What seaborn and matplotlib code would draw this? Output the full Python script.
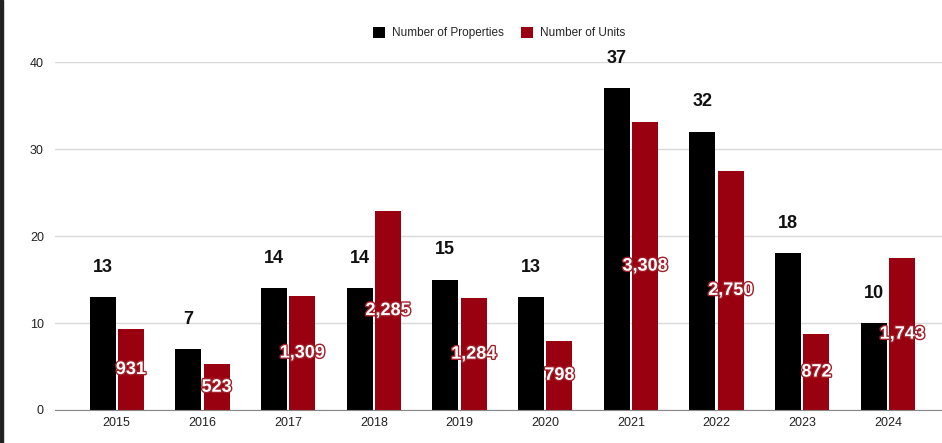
import pandas as pd
import matplotlib.pyplot as plt
import matplotlib.patheffects as pe
from matplotlib.patches import Rectangle
import seaborn as sns

# Données
years = ["2015", "2016", "2017", "2018", "2019", "2020", "2021", "2022", "2023", "2024"]
properties = [13, 7, 14, 14, 15, 13, 37, 32, 18, 10]
units = [931, 523, 1309, 2285, 1284, 798, 3308, 2750, 872, 1743]
series = ["Number of Properties", "Number of Units"]
colors = ["#000000", "#990010"]

# Les unités sont tracées au 1/100 sur le même axe
df = pd.DataFrame({
    "year": years * 2,
    "series": [series[0]] * len(years) + [series[1]] * len(years),
    "value": properties + [u / 100 for u in units],
})

sns.set_style("white")
plt.rcParams["font.family"] = ["Liberation Sans", "DejaVu Sans"]

fig = plt.figure(figsize=(9.42, 4.43), dpi=100)
ax = fig.add_axes([0.0584, 0.0745, 0.9416, 0.7855])

sns.barplot(
    data=df, x="year", y="value", hue="series", palette=colors,
    saturation=1, width=0.66, gap=0.08, linewidth=0, ax=ax, legend=True
)

ax.set_ylim(0, 40)
ax.set_xlim(-0.72, 9.63)
ax.set_yticks([0, 10, 20, 30, 40])
ax.set_xlabel("")
ax.set_ylabel("")
ax.yaxis.grid(True, color="#d9d9d9", linewidth=1)
ax.set_axisbelow(True)
for s in ["top", "right", "left"]:
    ax.spines[s].set_visible(False)
ax.spines["bottom"].set_color("#888888")
ax.tick_params(axis="both", length=0, labelsize=9, labelcolor="#222222")
ax.tick_params(axis="y", pad=8)
ax.tick_params(axis="x", pad=5)

# Étiquettes : propriétés au-dessus, unités au centre des barres
for bar, val in zip(ax.containers[0], properties):
    ax.annotate(
        str(val), (bar.get_x() + bar.get_width() / 2, bar.get_height()),
        xytext=(0, 21.5), textcoords="offset points",
        ha="center", va="center", fontsize=13, fontweight="bold", color="#111111"
    )
for bar, val in zip(ax.containers[1], units):
    t = ax.text(
        bar.get_x() + bar.get_width() / 2, bar.get_height() / 2, f"{val:,}",
        ha="center", va="center", fontsize=13, fontweight="bold", color="white"
    )
    t.set_path_effects([pe.withStroke(linewidth=2, foreground="#a0202a")])

handles, labels = ax.get_legend_handles_labels()
ax.legend(
    handles, labels, loc="center", bbox_to_anchor=(0.53, 0.925),
    bbox_transform=fig.transFigure, ncol=2, frameon=False,
    fontsize=8.5, handlelength=1.0, handleheight=1.0, columnspacing=1.5,
    handletextpad=0.6
)

# Bord sombre à gauche
fig.patches.append(Rectangle((0, 0), 0.0035, 1, transform=fig.transFigure,
                             color="#222222", zorder=10))

plt.savefig("out.png", dpi=100)
